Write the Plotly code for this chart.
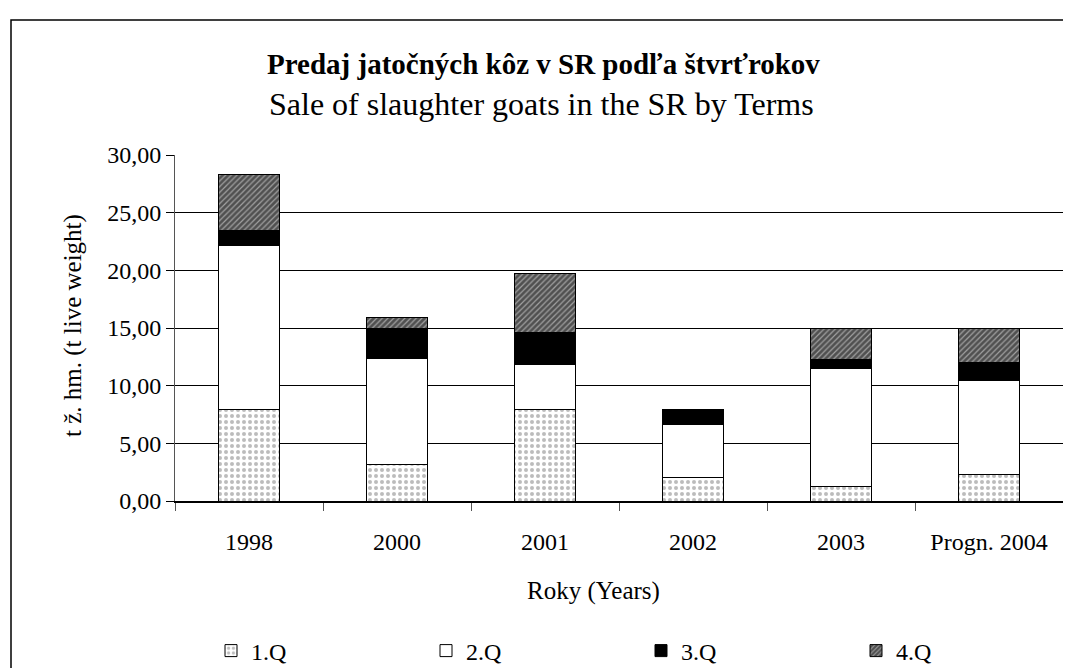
import plotly.graph_objects as go

# --- data ---
roky = ["1998", "2000", "2001", "2002", "2003", "Progn. 2004"]
q1 = [7.9, 3.2, 7.9, 2.0, 1.3, 2.3]
q2 = [14.25, 9.15, 3.95, 4.6, 10.2, 8.15]
q3 = [1.3, 2.6, 2.8, 1.3, 0.75, 1.55]
q4 = [4.85, 0.95, 5.1, 0.0, 2.75, 3.0]
y_ticks = [0, 5, 10, 15, 20, 25, 30]

FONT = "Liberation Serif, Times New Roman, serif"
W, H = 1071, 668
L, R, T, B = 167, 16, 147, 175   # plot area margins in px

fig = go.Figure()

styles = [
    ("1.Q", q1, dict(shape=".", fgcolor="#7a7a7a", bgcolor="white", size=6, solidity=0.35)),
    ("2.Q", q2, dict(shape="", bgcolor="white")),
    ("3.Q", q3, dict(shape="", bgcolor="black")),
    ("4.Q", q4, dict(shape="/", fgcolor="black", bgcolor="#a0a0a0", size=4, solidity=0.7)),
]
for name, vals, pat in styles:
    fig.add_trace(go.Bar(
        x=roky, y=vals, name=name,
        marker=dict(color="black" if name == "3.Q" else "white",
                    line=dict(color="black", width=1),
                    pattern=pat),
        width=0.41,
    ))

# px -> plot-area fractions, so texts and frame sit where the reference has them
pw, ph = W - L - R, H - T - B
def fx(px):
    return (px - L) / pw
def fy(py):
    return (H - B - py) / ph

# outer frame round the whole chart
fig.add_shape(type="rect", xref="paper", yref="paper",
              x0=fx(3), x1=fx(1067), y0=fy(690), y1=fy(12),
              line=dict(color="black", width=1.5), layer="below")

def label(text, x, y, size, angle=0):
    fig.add_annotation(text=text, xref="paper", yref="paper", x=fx(x), y=fy(y),
                       xanchor="center", yanchor="middle", textangle=angle,
                       showarrow=False, font=dict(size=size, color="black", family=FONT))

label("<b>Predaj jatočných kôz v SR podľa štvrťrokov</b>", 535, 56, 29)
label("Sale of slaughter goats in the SR by Terms", 533, 96, 32)
label("t ž. hm. (t live weight)", 65, 318, 25, angle=-90)
label("Roky (Years)", 585, 583, 25)

fig.update_layout(
    width=W, height=H,
    barmode="stack",
    separators=",.",
    paper_bgcolor="white", plot_bgcolor="white",
    margin=dict(l=L, r=R, t=T, b=B),
    font=dict(family=FONT, size=24, color="black"),
    showlegend=True,
    legend=dict(orientation="h", xref="container", yref="container",
                x=203 / W, y=(H - 643) / H, xanchor="left", yanchor="middle",
                entrywidth=170, entrywidthmode="pixels",
                font=dict(size=24, family=FONT), traceorder="normal"),
)

fig.update_yaxes(range=[0, 30], tickvals=y_ticks, tickformat=".2f",
                 showgrid=True, gridcolor="black", gridwidth=1,
                 showline=True, linecolor="#555555", linewidth=1,
                 ticks="outside", ticklen=8, tickcolor="black",
                 zeroline=False)
fig.update_xaxes(type="category", showgrid=False,
                 showline=True, linecolor="black", linewidth=1.5,
                 ticks="outside", ticklen=8, tickcolor="#555555",
                 tickson="boundaries", ticklabelstandoff=18)

fig.write_html("out.html")
